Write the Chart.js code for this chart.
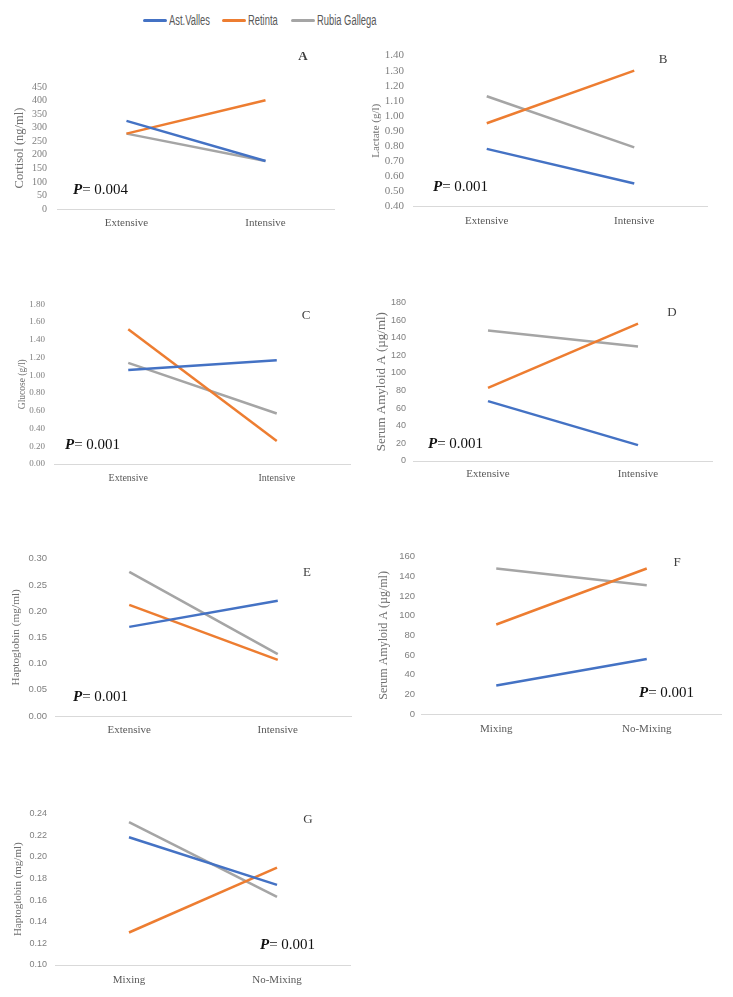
<!DOCTYPE html>
<html>
<head>
<meta charset="utf-8">
<script src="https://cdn.jsdelivr.net/npm/chart.js@4.4.1/dist/chart.umd.min.js"></script>
<style>
  body { margin: 0; background: #fff; }
  #wrap { position: relative; width: 733px; height: 997px; overflow: hidden; }
  #wrap canvas { position: absolute; }
  .lg { position: absolute; top: 11px; height: 18px; display: flex; align-items: center; white-space: nowrap;
        font-family: 'Liberation Sans', 'DejaVu Sans', sans-serif; font-size: 14px; color: #595959; }
  .lg .swatch { width: 24px; height: 3px; border-radius: 2px; margin-right: 2px; flex: none; }
  .lg .txt { display: inline-block; transform: scaleX(0.67); transform-origin: left center; }
</style>
</head>
<body>
<div id="wrap"></div>
<script>
// series + categories
const breeds = ['Ast.Valles', 'Retinta', 'Rubia Gallega'];
const breedColors = ['#4472C4', '#ED7D31', '#A5A5A5'];
const housing = ['Extensive', 'Intensive'];
const mixing = ['Mixing', 'No-Mixing'];

// values per breed: [Ast.Valles, Retinta, Rubia Gallega]
const cortisol = [[325, 177], [278, 401], [278, 177]];
const lactate = [[0.78, 0.55], [0.95, 1.30], [1.13, 0.79]];
const glucose = [[1.06, 1.17], [1.52, 0.26], [1.14, 0.57]];
const saaHousing = [[68, 18], [83, 156], [148, 130]];
const hpHousing = [[0.170, 0.220], [0.212, 0.107], [0.275, 0.118]];
const saaMixing = [[29, 56], [91, 148], [148, 131]];
const hpMixing = [[0.218, 0.174], [0.130, 0.190], [0.232, 0.163]];

// y ticks: [min, max, step]
const cortisolTicks = [0, 450, 50];
const lactateTicks = [0.4, 1.4, 0.1];
const glucoseTicks = [0, 1.8, 0.2];
const saaHousingTicks = [0, 180, 20];
const hpHousingTicks = [0, 0.3, 0.05];
const saaMixingTicks = [0, 160, 20];
const hpMixingTicks = [0.1, 0.24, 0.02];

const pValues = ['0.004', '0.001', '0.001', '0.001', '0.001', '0.001', '0.001'];

const SERIF = '"Liberation Serif", "DejaVu Serif", serif';
const SANS = '"Liberation Sans", "DejaVu Sans", sans-serif';

const wrap = document.getElementById('wrap');

// legend (html)
const legendX = [143, 222, 291];
breeds.forEach((b, i) => {
  const it = document.createElement('div');
  it.className = 'lg';
  it.style.left = legendX[i] + 'px';
  it.innerHTML = '<span class="swatch" style="background:' + breedColors[i] + '"></span><span class="txt">' + b + '</span>';
  wrap.appendChild(it);
});

const annot = {
  id: 'annot',
  afterDraw(chart, args, o) {
    const ctx = chart.ctx;
    ctx.save();
    ctx.textBaseline = 'middle';
    ctx.fillStyle = '#404040';
    ctx.textAlign = 'center';
    ctx.font = (o.bold ? 'bold ' : '') + '13px ' + SERIF;
    ctx.fillText(o.letter, o.lx, o.ly);
    ctx.textAlign = 'left';
    ctx.fillStyle = '#111';
    ctx.font = 'italic bold 15px ' + SERIF;
    ctx.fillText('P', o.px, o.py);
    const w = ctx.measureText('P').width;
    ctx.font = '15px ' + SERIF;
    ctx.fillText('= ' + o.p, o.px + w, o.py);
    ctx.restore();
  }
};

function fmt(dec) {
  return v => Number(v).toFixed(dec);
}

function panel(p) {
  const left = Math.round(p.tx - p.titleSize * 0.6);
  const c = document.createElement('canvas');
  const w = p.x1 - left, h = p.yb - p.top + 30;
  c.width = w; c.height = h;
  c.style.left = left + 'px'; c.style.top = p.top + 'px';
  c.style.width = w + 'px'; c.style.height = h + 'px';
  wrap.appendChild(c);
  new Chart(c.getContext('2d'), {
    type: 'line',
    data: {
      labels: p.labels,
      datasets: breeds.map((b, i) => ({
        label: b,
        data: p.values[i],
        borderColor: breedColors[i],
        backgroundColor: breedColors[i],
        borderWidth: 2.5,
        pointRadius: 0,
        fill: false,
        tension: 0
      }))
    },
    options: {
      responsive: false,
      animation: false,
      devicePixelRatio: 1,
      layout: { padding: { top: p.yt - p.top, left: 0, right: 0, bottom: 0 } },
      plugins: {
        legend: { display: false },
        tooltip: { enabled: false },
        annot: {
          letter: p.letter, bold: p.bold, lx: p.lx - left, ly: p.ly - p.top,
          p: p.p, px: p.px - left, py: p.py - p.top
        }
      },
      scales: {
        x: {
          offset: true,
          grid: { display: false, drawTicks: false },
          border: { display: true, color: '#d9d9d9', width: 1 },
          ticks: { padding: p.xpad, color: '#595959', font: { family: SERIF, size: p.xSize || 11 }, maxRotation: 0 },
          afterFit(s) { s.height = 30; }
        },
        y: {
          min: p.ticks[0],
          max: p.ticks[1],
          grid: { display: false, drawTicks: false },
          border: { display: false },
          ticks: {
            stepSize: p.ticks[2],
            autoSkip: false,
            padding: p.ypad,
            color: '#7f7f7f',
            font: { family: p.tickFont, size: p.tickSize },
            callback: fmt(p.dec)
          },
          title: {
            display: true,
            text: p.title,
            color: '#6f6f6f',
            padding: { top: 0, bottom: 0 },
            font: { family: SERIF, size: p.titleSize }
          },
          afterFit(s) { s.width = p.x0 - left; }
        }
      }
    },
    plugins: [annot]
  });
}

panel({ labels: housing, values: cortisol, ticks: cortisolTicks, dec: 0, title: 'Cortisol (ng/ml)', tx: 19.5, titleSize: 12.5,
  top: 45, x0: 57, x1: 335, yt: 87, yb: 209, ypad: 10, xpad: 8, tickFont: SERIF, tickSize: 10,
  letter: 'A', bold: true, lx: 303, ly: 57, p: pValues[0], px: 73, py: 190 });
panel({ labels: housing, values: lactate, ticks: lactateTicks, dec: 2, title: 'Lactate (g/l)', tx: 377, titleSize: 11,
  top: 40, x0: 413, x1: 708, yt: 51, yb: 206, ypad: 9, xpad: 9, tickFont: SERIF, tickSize: 11,
  letter: 'B', lx: 663, ly: 60, p: pValues[1], px: 433, py: 187 });
panel({ labels: housing, values: glucose, ticks: glucoseTicks, dec: 2, title: 'Glucose (g/l)', tx: 22.7, titleSize: 9.5,
  top: 290, x0: 54, x1: 351, yt: 303, yb: 464, ypad: 9, xpad: 8, tickFont: SERIF, tickSize: 9, xSize: 10,
  letter: 'C', lx: 306, ly: 316, p: pValues[2], px: 65, py: 445 });
panel({ labels: housing, values: saaHousing, ticks: saaHousingTicks, dec: 0, title: 'Serum Amyloid A (µg/ml)', tx: 382, titleSize: 13,
  top: 290, x0: 413, x1: 713, yt: 302, yb: 461, ypad: 7, xpad: 7, tickFont: SANS, tickSize: 9,
  letter: 'D', lx: 672, ly: 313, p: pValues[3], px: 428, py: 444 });
panel({ labels: housing, values: hpHousing, ticks: hpHousingTicks, dec: 2, title: 'Haptoglobin (mg/ml)', tx: 16, titleSize: 11.3,
  top: 545, x0: 55, x1: 352, yt: 557, yb: 716, ypad: 8, xpad: 8, tickFont: SANS, tickSize: 9.5,
  letter: 'E', lx: 307, ly: 573, p: pValues[4], px: 73, py: 697 });
panel({ labels: mixing, values: saaMixing, ticks: saaMixingTicks, dec: 0, title: 'Serum Amyloid A (µg/ml)', tx: 384, titleSize: 12,
  top: 545, x0: 421, x1: 722, yt: 555, yb: 714, ypad: 6, xpad: 9, tickFont: SANS, tickSize: 9.5,
  letter: 'F', lx: 677, ly: 563, p: pValues[5], px: 639, py: 693 });
panel({ labels: mixing, values: hpMixing, ticks: hpMixingTicks, dec: 2, title: 'Haptoglobin (mg/ml)', tx: 18.5, titleSize: 11,
  top: 800, x0: 55, x1: 351, yt: 813, yb: 965, ypad: 8, xpad: 9, tickFont: SANS, tickSize: 9,
  letter: 'G', lx: 308, ly: 820, p: pValues[6], px: 260, py: 945 });
</script>
</body>
</html>
